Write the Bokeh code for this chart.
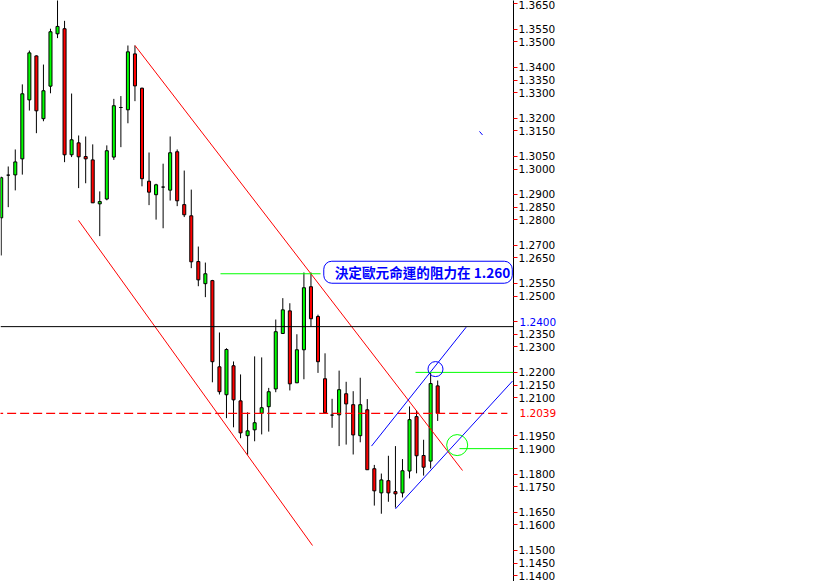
from bokeh.plotting import figure
from bokeh.models import Range1d, FixedTicker, CustomJSTickFormatter, Label, Span
from bokeh.embed import file_html
from bokeh.resources import INLINE

# ---- daily EUR/USD candles ----
opens = [1.2808, 1.2976, 1.2977, 1.3040, 1.3272, 1.3445, 1.3198, 1.3326, 1.3532, 1.3552,
         1.3056, 1.3103, 1.3049, 1.3036, 1.2863, 1.2882, 1.3047, 1.3242, 1.3233, 1.3453,
         1.3318, 1.2952, 1.2899, 1.2929, 1.2917, 1.3068, 1.2860, 1.2816, 1.2636, 1.2549,
         1.2561, 1.2222, 1.2112, 1.2226, 1.2088, 1.1951, 1.1974, 1.2039, 1.2065, 1.2135,
         1.2353, 1.2442, 1.2159, 1.2289, 1.2537, 1.2420, 1.2175, 1.2032, 1.2033, 1.2116,
         1.2073, 1.1951, 1.2053, 1.1821, 1.1726, 1.1774, 1.1731, 1.1726, 1.1812, 1.2026,
         1.1873, 1.1851, 1.2147]
highs = [1.2970, 1.3010, 1.3077, 1.3333, 1.3466, 1.3447, 1.3411, 1.3552, 1.3680, 1.3583,
         1.3297, 1.3132, 1.3128, 1.3097, 1.2912, 1.3093, 1.3276, 1.3287, 1.3486, 1.3486,
         1.3320, 1.3065, 1.2942, 1.3021, 1.3128, 1.3077, 1.2994, 1.2919, 1.2695, 1.2632,
         1.2564, 1.2357, 1.2295, 1.2243, 1.2192, 1.2043, 1.2263, 1.2259, 1.2139, 1.2408,
         1.2492, 1.2472, 1.2350, 1.2593, 1.2593, 1.2427, 1.2275, 1.2096, 1.2207, 1.2163,
         1.2126, 1.2179, 1.2095, 1.1836, 1.1802, 1.1872, 1.1910, 1.1859, 1.2066, 1.2050,
         1.1935, 1.2198, 1.2168]
lows = [1.2660, 1.2850, 1.2916, 1.2978, 1.3230, 1.3141, 1.3188, 1.3298, 1.3515, 1.3027,
        1.3047, 1.2925, 1.2944, 1.2867, 1.2736, 1.2877, 1.3036, 1.3086, 1.3180, 1.3267,
        1.2932, 1.2858, 1.2801, 1.2767, 1.2876, 1.2854, 1.2811, 1.2610, 1.2539, 1.2496,
        1.2161, 1.2113, 1.2020, 1.1984, 1.1941, 1.1876, 1.1929, 1.1956, 1.1967, 1.2122,
        1.2351, 1.2129, 1.2158, 1.2173, 1.2381, 1.2198, 1.2040, 1.1982, 1.1910, 1.1916,
        1.1877, 1.1925, 1.1816, 1.1676, 1.1644, 1.1691, 1.1668, 1.1708, 1.1783, 1.1803,
        1.1794, 1.1822, 1.2009]
closes = [1.2966, 1.2976, 1.3028, 1.3296, 1.3457, 1.3229, 1.3308, 1.3540, 1.3561, 1.3056,
          1.3115, 1.3048, 1.3040, 1.2867, 1.2872, 1.3072, 1.3249, 1.3242, 1.3461, 1.3327,
          1.2962, 1.2909, 1.2938, 1.2929, 1.3064, 1.2875, 1.2820, 1.2635, 1.2564, 1.2588,
          1.2242, 1.2124, 1.2290, 1.2092, 1.1962, 1.1970, 1.2002, 1.2061, 1.2124, 1.2360,
          1.2446, 1.2155, 1.2289, 1.2533, 1.2411, 1.2242, 1.2041, 1.2032, 1.2132, 1.2076,
          1.1954, 1.2073, 1.1817, 1.1734, 1.1777, 1.1726, 1.1722, 1.1813, 1.2014, 1.1872,
          1.1827, 1.2156, 1.2039]
bar_index = list(range(len(opens)))

# ---- price axis ----
price_ticks = [1.3650, 1.3550, 1.3500, 1.3400, 1.3350, 1.3300, 1.3200, 1.3150, 1.3050,
               1.3000, 1.2900, 1.2850, 1.2800, 1.2700, 1.2650, 1.2550, 1.2500, 1.2400,
               1.2350, 1.2300, 1.2200, 1.2150, 1.2100, 1.1950, 1.1900, 1.1800, 1.1750,
               1.1650, 1.1600, 1.1500, 1.1450, 1.1400]
marked_level = 1.2400      # blue label on the axis
last_price = 1.2039        # red label / dashed line
black_level = 1.2380       # horizontal black line

# ---- drawn objects (bar index, price) ----
red_chan_x0 = [19.0, 10.98]
red_chan_y0 = [1.3486, 1.2798]
red_chan_x1 = [65.53, 44.22]
red_chan_y1 = [1.1814, 1.1519]
blue_chan_x0 = [52.6, 56.0]
blue_chan_y0 = [1.1910, 1.1663]
blue_chan_x1 = [66.05, 72.63]
blue_chan_y1 = [1.2378, 1.2166]
green_x0 = [31.15, 58.85, 65.1]
green_x1 = [45.36, 72.77, 72.77]
green_y = [1.2588, 1.2200, 1.1900]
circle_x = [61.69, 64.77]
circle_y = [1.2213, 1.1914]
circle_size = [15, 21]
circle_color = ["#0000FF", "#00FF00"]
note_text = "決定歐元命運的阻力在 1.260"
note_x = 45.82
note_y = 1.2594
axis_label_x = 73.62   # bar-index position just right of the price axis

X_START, X_END = -0.0994, 72.77
Y_BOTTOM, Y_TOP = 1.137738, 1.366298

p = figure(frame_width=513, frame_height=581,
           x_range=Range1d(X_START, X_END), y_range=Range1d(Y_BOTTOM, Y_TOP),
           output_backend="svg", toolbar_location=None, title=None,
           x_axis_location=None, y_axis_location="right",
           min_border_left=0, min_border_top=0, min_border_bottom=0, min_border_right=0,
           background_fill_color="white", border_fill_color="white",
           outline_line_color=None)
p.grid.visible = False

ax = p.yaxis[0]
ax.ticker = FixedTicker(ticks=price_ticks)
ax.formatter = CustomJSTickFormatter(
    code="return (Math.abs(tick - 1.24) < 1e-7) ? '' : tick.toFixed(4);")
ax.axis_line_color = "black"
ax.axis_line_width = 1
ax.major_tick_line_color = "#FF0000"
ax.major_tick_out = 4
ax.major_tick_in = 0
ax.minor_tick_line_color = None
ax.major_label_standoff = 1
ax.major_label_text_font = "DejaVu Sans"
ax.major_label_text_font_size = "10.5px"
ax.major_label_text_color = "black"

# candles
tops = [max(o, c) for o, c in zip(opens, closes)]
bottoms = [min(o, c) for o, c in zip(opens, closes)]
colors = ["#00FF00" if c > o else ("#FF0000" if c < o else "black")
          for o, c in zip(opens, closes)]
p.segment(bar_index, lows, bar_index, highs, line_color="black", line_width=1)
p.vbar(x=bar_index, width=0.43, top=tops, bottom=bottoms,
       fill_color=colors, line_color="black", line_width=1)

# horizontal lines
p.add_layout(Span(location=black_level, dimension="width", line_color="black", line_width=1))
p.segment([-1], [last_price], [71.9], [last_price], line_color="#FF0000",
          line_width=1.3, line_dash="9 4")

# channels
p.segment(red_chan_x0, red_chan_y0, red_chan_x1, red_chan_y1, line_color="#FF0000", line_width=1)
p.segment(blue_chan_x0, blue_chan_y0, blue_chan_x1, blue_chan_y1, line_color="#0000FF", line_width=1)
p.segment([67.94], [1.3148], [68.37], [1.3134], line_color="#0000FF", line_width=1)
p.segment(green_x0, green_y, green_x1, green_y, line_color="#00FF00", line_width=1)
p.scatter(circle_x, circle_y, size=circle_size, marker="circle",
          fill_color=None, line_color=circle_color, line_width=1)

# axis labels in colour (side panel -> not clipped to the frame)
for lvl, col in ((marked_level, "#0000FF"), (last_price, "#FF0000")):
    p.add_layout(Label(x=axis_label_x, y=lvl, text=f"{lvl:.4f}", text_color=col,
                       text_font="DejaVu Sans", text_font_size="10.5px",
                       text_baseline="middle", level="overlay"), "right")

# note
p.add_layout(Label(x=note_x, y=note_y, text=note_text, text_color="#0000FF",
                   text_font="Noto Sans CJK TC", text_font_style="bold", text_font_size="13.6px",
                   text_baseline="middle", text_align="left", level="overlay",
                   background_fill_color="white", border_line_color="#0000FF",
                   border_line_width=1, border_radius=8,
                   padding=dict(left=11, right=2, top=1, bottom=1)), "right")

open("out.html", "w").write(file_html(p, INLINE))
